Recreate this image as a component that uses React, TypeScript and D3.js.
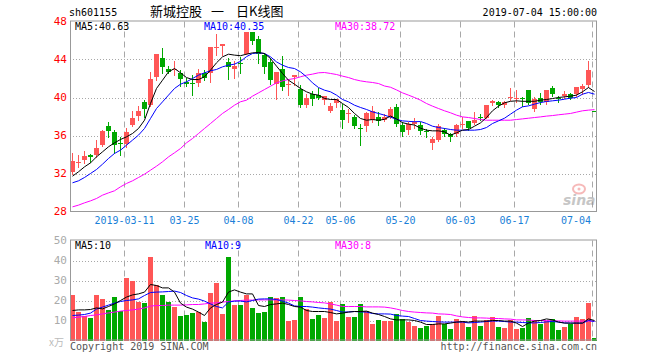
import React from 'react';
import * as d3 from 'd3';

// trading days shown (2019)
const dates = [
  '02-26', '02-27', '02-28',
  '03-01', '03-04', '03-05', '03-06', '03-07', '03-08', '03-11', '03-12', '03-13', '03-14', '03-15',
  '03-18', '03-19', '03-20', '03-21', '03-22', '03-25', '03-26', '03-27', '03-28', '03-29',
  '04-01', '04-02', '04-03', '04-04', '04-08', '04-09', '04-10', '04-11', '04-12', '04-15', '04-16',
  '04-17', '04-18', '04-19', '04-22', '04-23', '04-24', '04-25', '04-26', '04-29', '04-30',
  '05-06', '05-07', '05-08', '05-09', '05-10', '05-13', '05-14', '05-15', '05-16', '05-17',
  '05-20', '05-21', '05-22', '05-23', '05-24', '05-27', '05-28', '05-29', '05-30', '05-31',
  '06-03', '06-04', '06-05', '06-06', '06-10', '06-11', '06-12', '06-13', '06-14',
  '06-17', '06-18', '06-19', '06-20', '06-21', '06-24', '06-25', '06-26', '06-27', '06-28',
  '07-01', '07-02', '07-03', '07-04',
];

const openP = [
  32.18, 33.10, 33.40, 33.93, 33.93, 34.98, 36.98, 36.42, 35.23, 35.09,
  37.09, 38.04, 39.54, 39.19, 42.11, 44.11, 43.05, 42.88, 42.60, 41.65,
  41.50, 41.54, 42.53, 42.53, 45.16, 45.40, 43.75, 42.95, 43.60, 44.63,
  46.91, 46.21, 44.46, 43.75, 41.47, 43.05, 41.30, 42.20, 40.88, 39.19,
  40.35, 40.30, 39.72, 38.60, 39.44, 38.67, 38.25, 37.96, 36.75, 36.98,
  37.68, 37.96, 37.68, 37.96, 39.02, 37.09, 36.56, 37.20, 37.09, 36.50,
  35.16, 35.51, 36.63, 36.20, 36.14, 37.10, 37.51, 37.30, 37.90, 37.89,
  39.40, 39.54, 39.20, 39.90, 39.85, 39.95, 40.77, 38.84, 39.90, 39.54,
  41.05, 39.95, 40.20, 40.40, 40.35, 40.91, 41.30, 38.59,
];
const highP = [
  34.11, 33.90, 34.39, 34.10, 35.51, 36.63, 37.44, 36.56, 35.86, 36.74,
  38.60, 39.09, 39.72, 42.70, 44.56, 45.16, 43.30, 43.86, 42.88, 42.10,
  42.35, 43.05, 42.88, 45.33, 46.67, 45.68, 44.11, 43.80, 44.25, 46.91,
  46.91, 46.46, 44.70, 44.11, 42.70, 44.35, 41.80, 42.40, 41.30, 40.42,
  40.70, 41.05, 40.14, 39.40, 39.79, 39.30, 38.81, 38.20, 37.19, 38.50,
  39.09, 38.50, 38.25, 38.95, 39.30, 37.44, 37.44, 37.80, 37.44, 36.70,
  35.80, 37.20, 36.84, 36.30, 37.20, 37.96, 37.54, 38.50, 38.30, 39.19,
  39.70, 39.60, 39.60, 41.05, 40.80, 40.10, 40.84, 40.10, 40.50, 40.84,
  41.20, 40.20, 40.70, 40.50, 41.12, 41.40, 43.86, 38.59,
];
const lowP = [
  31.93, 32.70, 33.12, 33.20, 33.75, 34.88, 35.86, 34.18, 33.93, 34.81,
  36.98, 37.61, 37.96, 39.09, 41.89, 42.60, 42.53, 42.35, 41.19, 41.20,
  40.25, 41.19, 41.89, 41.65, 44.46, 44.46, 41.90, 42.10, 42.60, 44.56,
  45.61, 43.58, 42.60, 41.47, 39.89, 40.77, 40.25, 41.30, 38.95, 38.95,
  39.19, 39.80, 39.30, 38.50, 38.95, 36.74, 37.44, 36.74, 34.98, 36.49,
  37.44, 37.10, 37.54, 37.80, 36.98, 35.93, 36.21, 36.74, 36.14, 35.80,
  34.53, 35.40, 35.93, 35.40, 36.00, 36.80, 36.60, 37.20, 37.60, 37.80,
  39.20, 38.95, 38.95, 39.70, 39.50, 39.10, 39.30, 38.60, 39.30, 39.30,
  40.20, 39.50, 40.00, 39.85, 40.20, 40.35, 41.12, 38.59,
];
const closeP = [
  33.30, 33.25, 33.82, 33.75, 34.67, 36.46, 36.46, 35.05, 35.09, 36.32,
  37.89, 38.60, 38.74, 42.00, 44.56, 43.23, 42.70, 43.05, 42.00, 41.40,
  41.40, 42.53, 42.10, 45.33, 45.33, 45.68, 43.16, 43.30, 43.50, 46.91,
  45.96, 44.63, 43.16, 41.82, 42.70, 41.12, 41.47, 42.35, 39.19, 39.96,
  39.89, 40.00, 40.14, 39.09, 39.79, 37.61, 38.40, 36.98, 36.65, 38.32,
  38.56, 37.51, 37.96, 38.84, 37.16, 36.39, 37.19, 37.44, 36.49, 36.35,
  35.58, 36.98, 36.20, 35.80, 37.09, 37.20, 36.84, 37.68, 37.80, 39.19,
  39.60, 39.19, 39.50, 40.05, 39.95, 39.85, 39.37, 39.89, 39.50, 40.77,
  40.40, 39.85, 40.35, 39.95, 41.12, 41.20, 42.88, 38.59,
];

const ma5 = [
  31.72, 32.18, 32.70, 33.12, 33.75, 34.28, 34.81, 35.23, 35.58, 35.86,
  36.21, 36.74, 37.61, 39.37, 40.95, 41.82, 42.70, 43.05, 42.60, 42.10,
  41.89, 41.89, 42.18, 42.88, 43.65, 44.28, 44.56, 44.46, 44.40, 44.56,
  44.70, 44.74, 44.63, 44.10, 43.30, 42.53, 41.82, 41.40, 40.95, 40.60,
  40.35, 40.25, 39.90, 39.79, 39.79, 39.37, 38.95, 38.32, 37.79, 37.61,
  37.68, 37.61, 37.70, 38.05, 37.75, 37.35, 37.20, 37.10, 36.77, 36.56,
  36.49, 36.49, 36.39, 36.04, 36.28, 36.56, 36.63, 36.98, 37.33, 37.89,
  38.60, 39.09, 39.44, 39.60, 39.65, 39.60, 39.60, 39.60, 39.72, 39.79,
  39.89, 40.00, 40.07, 40.14, 40.25, 40.60, 41.05, 40.63,
];
const ma10 = [
  31.02, 31.23, 31.58, 32.00, 32.42, 32.98, 33.58, 34.11, 34.46, 34.98,
  35.51, 36.04, 36.74, 37.79, 38.84, 39.54, 40.25, 40.95, 41.40, 41.65,
  42.00, 42.35, 42.60, 42.81, 42.95, 43.23, 43.40, 43.51, 43.80, 44.30,
  44.63, 44.70, 44.63, 44.28, 43.75, 43.40, 43.16, 43.05, 42.70, 42.18,
  41.54, 41.05, 40.77, 40.60, 40.25, 39.79, 39.54, 39.19, 38.95, 38.74,
  38.49, 38.32, 38.14, 37.93, 37.70, 37.54, 37.49, 37.45, 37.47, 37.26,
  36.98, 36.84, 36.74, 36.63, 36.56, 36.56, 36.56, 36.56, 36.63, 36.84,
  37.26, 37.54, 37.82, 38.25, 38.67, 39.02, 39.12, 39.30, 39.47, 39.58,
  39.65, 39.72, 39.82, 39.93, 40.00, 40.35, 40.53, 40.35,
];
const ma30 = [
  28.49, 28.67, 28.91, 29.12, 29.37, 29.72, 29.96, 30.18, 30.60, 30.95,
  31.23, 31.58, 31.93, 32.35, 32.77, 33.23, 33.75, 34.18, 34.63, 35.23,
  35.68, 36.21, 36.74, 37.26, 37.79, 38.32, 38.74, 39.19, 39.55, 39.72,
  40.14, 40.49, 40.84, 41.19, 41.54, 41.75, 41.89, 42.00, 42.18, 42.35,
  42.46, 42.60, 42.63, 42.53, 42.42, 42.25, 42.10, 41.89, 41.75, 41.65,
  41.58, 41.47, 41.21, 41.08, 40.80, 40.49, 40.25, 40.00, 39.72, 39.37,
  39.09, 38.84, 38.60, 38.39, 38.14, 37.96, 37.89, 37.79, 37.68, 37.61,
  37.61, 37.61, 37.61, 37.61, 37.68, 37.75, 37.82, 37.89, 37.96, 38.04,
  38.10, 38.18, 38.25, 38.32, 38.46, 38.60, 38.67, 38.72,
];

// volume, 万手
const volume = [
  23, 14.2, 12.2, 11.2, 23, 21, 15.3, 22, 15, 31.2,
  29.7, 19.2, 19, 42, 28, 23, 19.5, 17, 12.5, 13,
  14, 14.3, 9.5, 24, 28.8, 13.5, 42, 18, 18, 22.7,
  16.5, 14, 14.5, 22, 21.5, 22, 10, 10.5, 22, 16,
  11, 13, 11.5, 19.5, 9.7, 18.5, 12, 12, 18.5, 15,
  8.5, 10.5, 10, 10, 13.5, 11, 9.5, 7.5, 6.5, 7.5,
  8.5, 12.5, 8.5, 6, 11, 10, 7, 12.5, 7.5, 10.5,
  12, 7, 6.5, 10.5, 6, 6.5, 11.5, 10.5, 8.5, 10,
  11, 5.5, 7, 8.5, 12, 11, 19, 1.2,
];
const volMa5 = [
  15.0, 15.3, 15.3, 15.5, 16.3, 15.8, 17.0, 18.3, 20.0, 21.7,
  22.8, 23.3, 24.2, 28.0, 27.5, 26.3, 26.3, 24.2, 18.7, 16.7,
  15.7, 14.2, 12.5, 16.3, 18.0, 19.2, 24.2, 25.3, 24.2, 23.3,
  23.3, 17.5, 17.0, 18.0, 18.3, 18.7, 18.0, 17.0, 16.7, 15.0,
  14.5, 14.5, 14.5, 14.0, 13.3, 13.7, 14.2, 14.5, 14.5, 14.7,
  13.7, 13.0, 12.0, 10.8, 10.3, 10.3, 10.3, 10.0, 9.2, 8.0,
  8.0, 8.3, 8.3, 8.7, 9.2, 9.5, 9.2, 9.7, 9.7, 9.7,
  10.0, 10.0, 9.7, 9.7, 8.7, 7.0, 8.7, 9.7, 10.0, 10.8,
  10.3, 9.2, 8.7, 8.7, 8.7, 8.7, 10.8, 10.0,
];
const volMa10 = [
  12.5, 12.7, 13.0, 13.7, 15.7, 16.7, 17.7, 18.7, 19.5, 20.0,
  20.3, 20.8, 22.5, 24.0, 24.2, 24.3, 24.5, 24.7, 24.0, 22.5,
  21.3, 20.7, 19.7, 18.3, 17.0, 16.3, 19.2, 19.7, 19.7, 19.3,
  20.0, 20.7, 20.8, 20.8, 20.5, 19.7, 18.7, 17.3, 17.0, 17.0,
  16.7, 16.3, 16.0, 15.7, 15.0, 14.2, 14.3, 14.5, 14.3, 14.2,
  13.5, 13.3, 13.3, 13.2, 12.5, 12.2, 12.0, 11.0, 10.0, 9.7,
  9.5, 9.3, 9.2, 9.2, 9.2, 9.2, 8.8, 9.0, 9.2, 9.5,
  9.7, 9.7, 9.5, 9.2, 9.2, 9.0, 8.8, 8.8, 9.0, 9.3,
  9.5, 9.2, 8.8, 8.7, 8.7, 8.7, 10.0, 9.5,
];
const volMa30 = [
  11.3, 11.7, 12.0, 12.5, 12.8, 13.3, 13.8, 14.2, 14.7, 15.0,
  15.3, 15.7, 16.3, 17.2, 17.5, 17.5, 17.7, 17.7, 17.7, 17.8,
  18.0, 18.0, 18.3, 18.7, 18.8, 19.2, 19.5, 19.8, 20.0, 20.2,
  20.2, 20.3, 20.3, 20.3, 20.3, 20.3, 20.2, 20.0, 19.8, 19.5,
  19.3, 19.0, 18.8, 18.3, 17.7, 17.0, 17.0, 17.0, 17.0, 16.8,
  16.8, 16.8, 16.7, 16.3, 15.7, 15.0, 14.5, 14.2, 14.0, 13.8,
  13.7, 13.3, 13.2, 13.0, 12.3, 11.8, 11.5, 11.3, 11.3, 11.2,
  11.0, 11.0, 10.8, 10.7, 10.3, 10.3, 10.2, 10.0, 10.0, 10.0,
  9.8, 9.8, 9.7, 9.7, 9.7, 9.7, 9.7, 9.7,
];

const tickDates = ['03-11', '03-25', '04-08', '04-22', '05-06', '05-20', '06-03', '06-17', '07-04'];
const tickLabels = ['2019-03-11', '03-25', '04-08', '04-22', '05-06', '05-20', '06-03', '06-17', '07-04'];
const priceTicks = [28, 32, 36, 40, 44, 48];
const volTicks = [10, 20, 30, 40, 50];

const RED = '#ff5656';
const GREEN = '#00a800';
const GRID = '#a8a8a8';
const MONO = '"DejaVu Sans Mono", monospace';
const CJK = '"Noto Sans CJK SC", sans-serif';

const left = 70, right = 597;
const pTop = 21.5, pBottom = 211.5;
const vTop = 240.5, vBottom = 340.5;

export default function App() {
  const x = d3.scaleBand<string>().domain(dates).range([left, right]).paddingInner(1 / 6).paddingOuter(0);
  const bw = x.bandwidth();
  const cx = (i: number) => (x(dates[i]) as number) + bw / 2;
  const y = d3.scaleLinear().domain([28, 48]).range([pBottom, pTop]);
  const vy = d3.scaleLinear().domain([0, 50]).range([vBottom, vTop]);

  // red when close above open; flat days compare with the day before
  const isUp = (i: number) =>
    closeP[i] > openP[i] || (closeP[i] === openP[i] && (i === 0 || closeP[i] >= closeP[i - 1]));

  const priceLine = (arr: number[]) =>
    d3.line<number>().x((_, i) => cx(i)).y(d => y(d))(arr) as string;
  const volLine = (arr: number[]) =>
    d3.line<number>().x((_, i) => cx(i)).y(d => vy(d))(arr) as string;

  const vlines = tickDates.map(d => Math.round(x(d) as number) + 0.5);

  return (
    <svg width={660} height={360} style={{ position: 'absolute', left: 0, top: 0, background: '#fff' }}
      fontFamily={MONO}>
      {/* header */}
      <text x={69} y={16} fontSize={10}>sh601155</text>
      <text x={150} y={16} fontSize={13} fontFamily={CJK}>新城控股</text>
      <text x={211} y={16} fontSize={13} fontFamily={CJK}>一</text>
      <text x={236} y={16} fontSize={13} fontFamily={CJK}>日K线图</text>
      <text x={597} y={16} fontSize={10} textAnchor="end">2019-07-04 15:00:00</text>

      {/* price grid */}
      {priceTicks.filter(t => t > 28 && t < 48).map(t => (
        <line key={t} x1={left} x2={right} y1={Math.round(y(t)) + 0.5} y2={Math.round(y(t)) + 0.5}
          stroke={GRID} strokeDasharray="1,2" />
      ))}
      {vlines.map((vx, k) => (
        <line key={k} x1={vx} x2={vx} y1={pTop} y2={pBottom} stroke={GRID} strokeDasharray="6,4" />
      ))}
      {priceTicks.map(t => (
        <text key={t} x={67} y={y(t)} dy="0.35em" fontSize={11} fill="#f00" textAnchor="end">{t}</text>
      ))}
      {tickLabels.map((l, k) => (
        <text key={l} x={k === tickLabels.length - 1 ? vlines[k] - 1.5 : vlines[k]} y={224} fontSize={10}
          fill="#1a7fd8" textAnchor={k === tickLabels.length - 1 ? 'end' : 'middle'}>{l}</text>
      ))}

      {/* sina mark */}
      <g opacity={0.55}>
        <ellipse cx={579} cy={189} rx={6} ry={4.5} fill="none" stroke="#f08080" strokeWidth={2} />
        <circle cx={579} cy={189} r={1.5} fill="#f08080" />
        <text x={563} y={205} fontSize={14} fontStyle="italic" fontWeight="bold" fill="#999"
          fontFamily="Verdana, 'DejaVu Sans', sans-serif">sina</text>
      </g>

      {/* candles */}
      {dates.map((d, i) => {
        const c = isUp(i) ? RED : GREEN;
        const x0 = x(d) as number;
        const top = Math.round(y(Math.max(openP[i], closeP[i])));
        const bot = Math.round(y(Math.min(openP[i], closeP[i])));
        return (
          <g key={d}>
            <line x1={x0 + 2.5} x2={x0 + 2.5} y1={Math.round(y(highP[i]))} y2={Math.round(y(lowP[i])) + 1}
              stroke={c} />
            <rect x={x0} y={top} width={bw} height={Math.max(1, bot - top)} fill={c} />
          </g>
        );
      })}

      <path d={priceLine(ma30)} fill="none" stroke="#f0f" strokeWidth={1} />
      <path d={priceLine(ma10)} fill="none" stroke="#00f" strokeWidth={1} />
      <path d={priceLine(ma5)} fill="none" stroke="#000" strokeWidth={1} />

      <rect x={left + 0.5} y={pTop - 0.5} width={right - left - 1} height={pBottom - pTop + 0.5}
        fill="none" stroke="#999" />
      <text x={75} y={30} fontSize={10} fill="#000">MA5:40.63</text>
      <text x={204} y={30} fontSize={10} fill="#00f">MA10:40.35</text>
      <text x={335} y={30} fontSize={10} fill="#f0f">MA30:38.72</text>

      {/* volume panel */}
      {volTicks.filter(t => t < 50).map(t => (
        <line key={t} x1={left} x2={right} y1={Math.round(vy(t)) + 0.5} y2={Math.round(vy(t)) + 0.5}
          stroke={GRID} strokeDasharray="1,2" />
      ))}
      {vlines.map((vx, k) => (
        <line key={k} x1={vx} x2={vx} y1={vTop} y2={vBottom} stroke={GRID} strokeDasharray="6,4" />
      ))}
      {volTicks.map(t => (
        <text key={t} x={67} y={vy(t)} dy="0.35em" fontSize={11} fill="#aaa" textAnchor="end">{t}</text>
      ))}
      <text x={49} y={346} fontSize={10} fill="#bbb" fontFamily={CJK}>x万</text>

      {dates.map((d, i) => {
        const top = Math.round(vy(volume[i]));
        return (
          <rect key={d} x={x(d) as number} y={top} width={bw} height={Math.round(vBottom) - top}
            fill={isUp(i) ? RED : GREEN} />
        );
      })}

      <path d={volLine(volMa30)} fill="none" stroke="#f0f" strokeWidth={1} />
      <path d={volLine(volMa10)} fill="none" stroke="#00f" strokeWidth={1} />
      <path d={volLine(volMa5)} fill="none" stroke="#000" strokeWidth={1} />

      <rect x={left + 0.5} y={vTop - 0.5} width={right - left - 1} height={vBottom - vTop}
        fill="none" stroke="#999" />
      <text x={75} y={249} fontSize={10} fill="#000">MA5:10</text>
      <text x={205} y={249} fontSize={10} fill="#00f">MA10:9</text>
      <text x={335} y={249} fontSize={10} fill="#f0f">MA30:8</text>

      <text x={70} y={350} fontSize={10} fill="#555">Copyright 2019 SINA.COM</text>
      <text x={597} y={350} fontSize={10} fill="#555" textAnchor="end">http://finance.sina.com.cn</text>
    </svg>
  );
}
